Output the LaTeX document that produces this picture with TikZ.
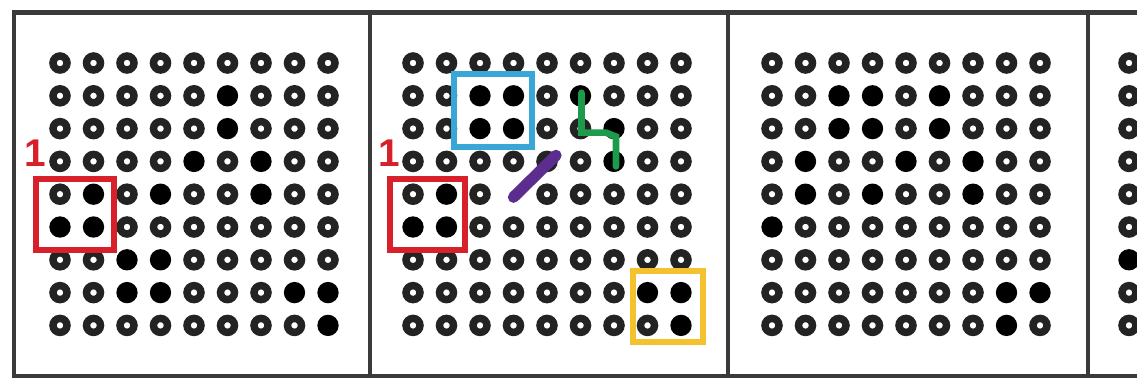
\documentclass[tikz,border=0pt]{standalone}
\usepackage{fontspec}
\setmainfont{Liberation Sans}
\usetikzlibrary{calc}
\definecolor{ringcol}{HTML}{232323}
\definecolor{framecol}{HTML}{3A3A3A}
\definecolor{redc}{HTML}{D7202A}
\definecolor{bluec}{HTML}{3AA6D6}
\definecolor{yellowc}{HTML}{F3C22E}
\definecolor{greenc}{HTML}{1E9A4C}
\definecolor{purplec}{HTML}{5C2D8F}
\tikzset{
  dot0/.style={circle, draw=ringcol, line width=5.6pt, minimum size=10.5pt, inner sep=0pt, outer sep=0pt},
  dot1/.style={circle, fill=black, minimum size=16pt, inner sep=0pt, outer sep=0pt},
  dot2/.style={circle, minimum size=16pt, inner sep=0pt, outer sep=0pt},
  frame/.style={draw=framecol, line width=3.3pt, line join=miter},
  hlbox/.style={line width=4.5pt},
  greenline/.style={draw=greenc, line width=5pt, line join=miter, line cap=round},
  purpleline/.style={draw=purplec, line width=8.5pt, line cap=round},
  lbl/.style={text=redc, font=\bfseries\fontsize{29}{29}\selectfont, inner sep=0pt},
}
\newcommand\dotpanel[3]{%
  \foreach \rowlist [count=\ri from 0] in {#3} {
    \foreach \v [count=\ci from 0] in \rowlist {
      \node[dot\v] (#1-\ri-\ci) at ({#2+33.5*\ci},{63+32.8*\ri}) {};
    }
  }
}
\begin{document}
\begin{tikzpicture}[x=0.75pt,y=-0.75pt]
\clip (0,0) rectangle (1137,379);
\fill[white] (0,0) rectangle (1137,379);
% frames
\draw[frame] (1145,12.5) -- (14,12.5) -- (14,376) -- (1145,376);
\draw[frame] (370,12.5) -- (370,376);
\draw[frame] (728,12.5) -- (728,376);
\draw[frame] (1088,12.5) -- (1088,376);
% panel 1
\dotpanel{p1}{60}{
  {0,0,0,0,0,0,0,0,0},
  {0,0,0,0,0,1,0,0,0},
  {0,0,0,0,0,1,0,0,0},
  {0,0,0,0,1,0,1,0,0},
  {0,1,0,1,0,0,1,0,0},
  {1,1,0,0,0,0,0,0,0},
  {0,0,1,1,0,0,0,0,0},
  {0,0,1,1,0,0,0,1,1},
  {0,0,0,0,0,0,0,0,1}}
% panel 2
\dotpanel{p2}{413}{
  {0,0,0,0,0,0,0,0,0},
  {0,0,1,1,0,1,0,0,0},
  {0,0,1,1,0,0,1,0,0},
  {0,0,0,0,0,0,1,0,0},
  {0,1,0,2,0,0,0,0,0},
  {1,1,0,0,0,0,0,0,0},
  {0,0,0,0,0,0,0,0,0},
  {0,0,0,0,0,0,0,1,1},
  {0,0,0,0,0,0,0,0,1}}
% panel 3
\dotpanel{p3}{772}{
  {0,0,0,0,0,0,0,0,0},
  {0,0,1,1,0,1,0,0,0},
  {0,0,1,1,0,1,0,0,0},
  {0,1,0,0,1,0,1,0,0},
  {0,1,0,1,0,0,1,0,0},
  {1,0,0,0,0,0,0,0,0},
  {0,0,0,0,0,0,0,0,0},
  {0,0,0,0,0,0,0,1,1},
  {0,0,0,0,0,0,0,1,0}}
% panel 4 (only first column visible)
\dotpanel{p4}{1129}{{0},{0},{0},{0},{0},{0},{1},{0},{0}}
% highlight boxes
\draw[hlbox, draw=redc] ($(p1-4-0.center)+(-24,-15)$) rectangle ($(p1-5-1.center)+(20.5,23)$);
\draw[hlbox, draw=redc] ($(p2-4-0.center)+(-23,-15)$) rectangle ($(p2-5-1.center)+(18,23)$);
\draw[hlbox, draw=bluec] ($(p2-1-2.center)+(-26,-21.5)$) rectangle ($(p2-2-3.center)+(18.5,18)$);
\draw[hlbox, draw=yellowc] ($(p2-7-7.center)+(-14.5,-21.5)$) rectangle ($(p2-8-8.center)+(21.5,16.5)$);
% green path
\draw[greenline] ($(p2-1-5.center)+(1,-3)$) -- ($(p2-2-5.center)+(1,4)$) -- ($(p2-2-6.center)+(-8,4)$) -- ($(p2-2-6.center)+(2,8)$) -- ($(p2-3-6.center)+(2,5)$);
% purple segment
\draw[purpleline] ($(p2-3-4.center)+(9,-6)$) -- ($(p2-4-3.center)+(0,3)$);
% labels
\node[lbl] (l1) at (35,153) {1};
\node[lbl] (l2) at (389,153) {1};
\end{tikzpicture}
\end{document}
